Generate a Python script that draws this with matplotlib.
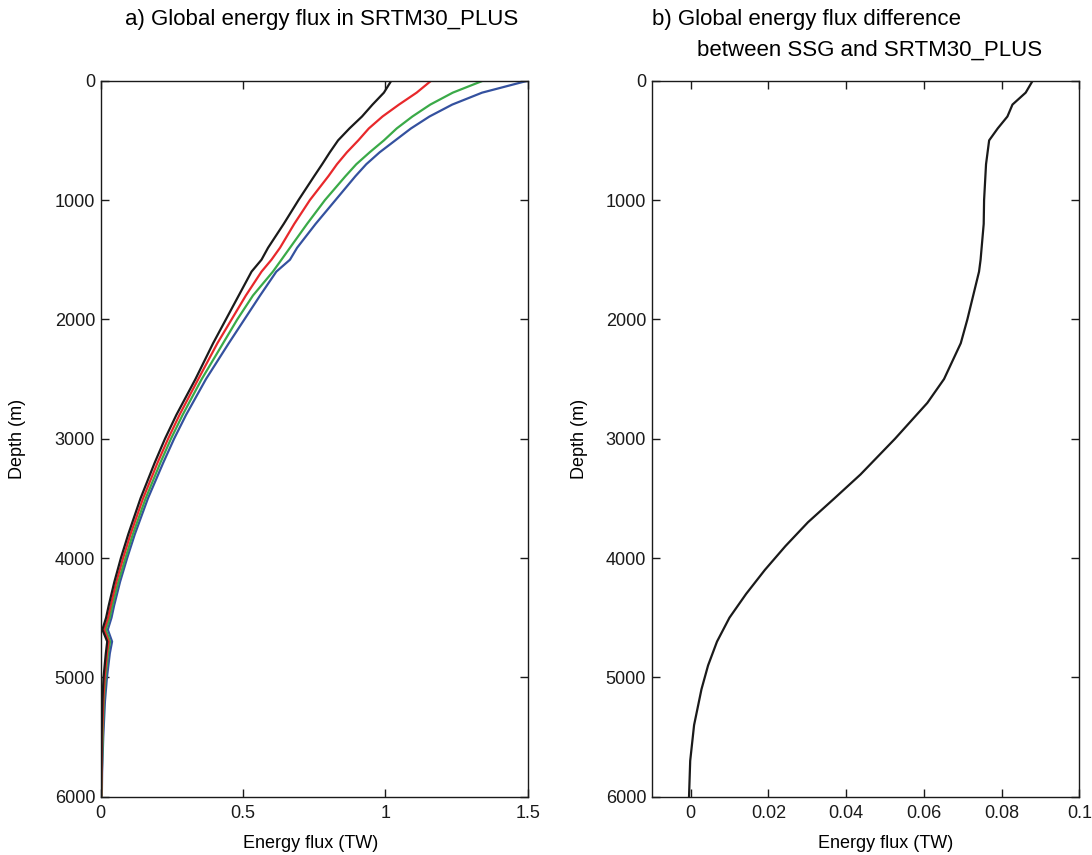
import matplotlib
matplotlib.use("Agg")
import matplotlib.pyplot as plt

plt.rcParams['font.family'] = ['Liberation Sans', 'DejaVu Sans']

# ---- data: panel a ----
depth_a = [0, 100, 200, 300, 400, 500, 600, 700, 800, 1000, 1200, 1400, 1500,
           1600, 1800, 2000, 2200, 2500, 2800, 3000, 3200, 3500, 3800, 4000,
           4200, 4400, 4500, 4600, 4700, 4800, 5000, 5200, 5500, 5800, 6000]
flux_blue = [1.50, 1.34, 1.235, 1.155, 1.09, 1.035, 0.98, 0.933, 0.895, 0.825, 0.755,
             0.69, 0.665, 0.617, 0.56, 0.505, 0.45, 0.37, 0.30, 0.258, 0.22, 0.166,
             0.12, 0.093, 0.068, 0.047, 0.038, 0.025, 0.040, 0.032, 0.022, 0.015,
             0.009, 0.005, 0.004]
flux_green = [1.343, 1.237, 1.158, 1.095, 1.04, 0.995, 0.945, 0.898, 0.86, 0.788,
              0.725, 0.665, 0.635, 0.605, 0.535, 0.48, 0.43, 0.355, 0.288, 0.247,
              0.21, 0.158, 0.113, 0.087, 0.062, 0.041, 0.032, 0.018, 0.033, 0.026,
              0.017, 0.011, 0.007, 0.004, 0.003]
flux_red = [1.161, 1.11, 1.048, 0.99, 0.942, 0.905, 0.865, 0.83, 0.80, 0.735,
            0.68, 0.63, 0.60, 0.565, 0.51, 0.46, 0.41, 0.343, 0.277, 0.237, 0.20,
            0.149, 0.105, 0.079, 0.055, 0.035, 0.026, 0.012, 0.028, 0.022, 0.014,
            0.009, 0.005, 0.003, 0.002]
flux_black = [1.021, 0.995, 0.955, 0.918, 0.874, 0.834, 0.805, 0.778, 0.75, 0.695,
              0.643, 0.588, 0.565, 0.53, 0.485, 0.44, 0.395, 0.333, 0.266, 0.226,
              0.19, 0.14, 0.097, 0.071, 0.048, 0.028, 0.019, 0.006, 0.023, 0.018,
              0.010, 0.006, 0.003, 0.002, 0.001]

# ---- data: panel b ----
depth_b = [0, 100, 200, 300, 400, 500, 700, 1000, 1200, 1500, 1600, 1800, 2000,
           2200, 2500, 2700, 3000, 3300, 3500, 3700, 3900, 4100, 4300, 4500, 4700,
           4900, 5100, 5400, 5700, 6000]
flux_diff = [0.0880, 0.0862, 0.0828, 0.0815, 0.0790, 0.0768, 0.0760, 0.0755,
             0.0754, 0.0746, 0.0742, 0.0727, 0.0712, 0.0695, 0.0652, 0.0609,
             0.0526, 0.0437, 0.0370, 0.0302, 0.0244, 0.0191, 0.0143, 0.0100,
             0.0068, 0.0045, 0.0028, 0.0009, -0.0001, -0.0004]

xticks_a = [0, 0.5, 1, 1.5]
xticklabels_a = ['0', '0.5', '1', '1.5']
xticks_b = [0, 0.02, 0.04, 0.06, 0.08, 0.1]
xticklabels_b = ['0', '0.02', '0.04', '0.06', '0.08', '0.1']
yticks = [0, 1000, 2000, 3000, 4000, 5000, 6000]
yticklabels = ['0', '1000', '2000', '3000', '4000', '5000', '6000']

fig = plt.figure(figsize=(10.92, 8.55), dpi=100)
ax1 = fig.add_axes([0.0922, 0.0682, 0.391, 0.8374])
ax2 = fig.add_axes([0.5968, 0.0682, 0.3916, 0.8374])

lw = 1.6
ax1.plot(flux_blue, depth_a, color='#34519f', lw=lw)
ax1.plot(flux_green, depth_a, color='#3aaa48', lw=lw)
ax1.plot(flux_red, depth_a, color='#e8282b', lw=lw)
ax1.plot(flux_black, depth_a, color='#1a1a1a', lw=lw)
ax2.plot(flux_diff, depth_b, color='#1a1a1a', lw=lw)

ax1.set_xlim(0, 1.5)
ax2.set_xlim(-0.01, 0.1)
ax1.set_xticks(xticks_a)
ax1.set_xticklabels(xticklabels_a)
ax2.set_xticks(xticks_b)
ax2.set_xticklabels(xticklabels_b)

for ax, lx, xlx in ((ax1, -0.194, 0.4925), (ax2, -0.168, 0.548)):
    ax.set_ylim(6000, 0)
    ax.set_yticks(yticks)
    ax.set_yticklabels(yticklabels)
    ax.tick_params(direction='in', length=6, width=1.0, top=True, right=True,
                   labelsize=13, colors='#1a1a1a')
    ax.tick_params(axis='x', pad=6)
    ax.tick_params(axis='y', pad=4)
    for s in ax.spines.values():
        s.set_linewidth(1.0)
        s.set_color('#1a1a1a')
    ax.set_ylabel('Depth (m)', fontsize=13)
    ax.yaxis.set_label_coords(lx, 0.5)
    ax.yaxis.label.set_va('center')
    ax.set_xlabel('Energy flux (TW)', fontsize=13)
    ax.xaxis.set_label_coords(xlx, -0.065)
    ax.xaxis.label.set_va('center')

fig.text(322 / 1092, 1 - 19 / 855, 'a) Global energy flux in SRTM30_PLUS',
         ha='center', va='center', fontsize=16)
fig.text(652 / 1092, 1 - 19 / 855, 'b) Global energy flux difference',
         ha='left', va='center', fontsize=16)
fig.text(697 / 1092, 1 - 50 / 855, 'between SSG and SRTM30_PLUS',
         ha='left', va='center', fontsize=16)

fig.savefig('out.png', dpi=100)
